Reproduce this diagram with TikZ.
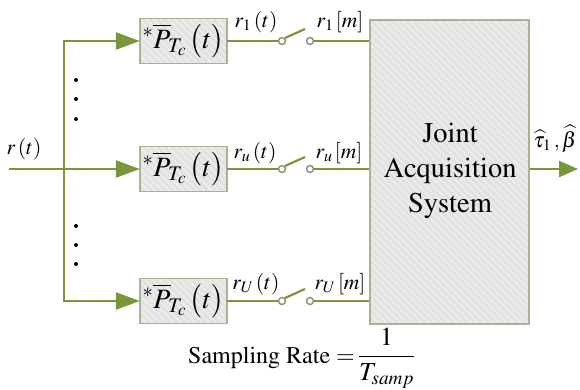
\documentclass[tikz,border=0pt]{standalone}
\usepackage[T1]{fontenc}
\usepackage{amsmath}
\usepackage{mathptmx}
\usetikzlibrary{arrows.meta,patterns.meta}
\definecolor{lnclr}{RGB}{122,150,58}
\definecolor{bordclr}{RGB}{168,178,148}
\definecolor{fillclr}{RGB}{226,226,226}
\definecolor{hatchclr}{RGB}{238,238,238}
\definecolor{swclr}{RGB}{140,150,125}
\tikzset{
  conn/.style={draw=lnclr, line width=2.5pt},
  arr/.style={conn, -{Triangle[length=24pt,width=17pt]}},
  outarr/.style={conn, -{Triangle[length=19pt,width=16pt]}},
  blk/.style={preaction={fill=fillclr},
    pattern={Lines[angle=-45,distance=5pt,line width=1.6pt]}, pattern color=hatchclr,
    postaction={draw=bordclr, line width=1.8pt}},
  swc/.style={circle, draw=swclr, line width=1.5pt, fill=white, minimum size=7pt, inner sep=0pt},
  lbl/.style={anchor=base, inner sep=0pt, font=\fontsize{21.5}{26}\selectfont},
  boxtxt/.style={font=\fontsize{28}{33}\selectfont},
  dotn/.style={circle, fill=black, minimum size=4pt, inner sep=0pt}
}
\newcommand{\pbox}{${}^{*}\overline{P}_{\!T_c}\,\bigl(t\bigr)$}
\begin{document}
\begin{tikzpicture}[x=1pt,y=-1pt]
\useasboundingbox (0,0) rectangle (580,389);
% big box
\node[blk, minimum width=159pt, minimum height=304pt, inner sep=0pt] (js) at (449.5,172) {};
\node[align=center, font=\fontsize{28.5}{35}\selectfont, inner sep=0pt] (jst) at (450,171) {Joint\\Acquisition\\System};
% filter boxes
\node[blk, boxtxt, minimum width=87pt, minimum height=45pt, inner sep=0pt] (b1) at (183.5,41) {\pbox};
\node[blk, boxtxt, minimum width=87pt, minimum height=45pt, inner sep=0pt] (b2) at (183.5,169) {\pbox};
\node[blk, boxtxt, minimum width=87pt, minimum height=45pt, inner sep=0pt] (b3) at (183.5,301) {\pbox};
% input and bus
\coordinate (in) at (9,169);
\coordinate (jn) at (64,169);
\draw[arr] (in) -- (b2.west);
\draw[arr] (jn) |- (b1.west);
\draw[arr] (jn) |- (b3.west);
\node[lbl] (lr) at (24,154) {$r\,(t)$};
% dots
\node[dotn] (d1) at (76,80) {};
\node[dotn] (d2) at (76,99) {};
\node[dotn] (d3) at (76,119) {};
\node[dotn] (d4) at (76,226) {};
\node[dotn] (d5) at (76,245) {};
\node[dotn] (d6) at (76,264) {};
% switches
\foreach \i/\y in {1/41,2/169,3/301}{
  \node[swc] (s\i a) at (282,\y) {};
  \node[swc] (s\i b) at (310,\y) {};
  \coordinate (s\i t) at (305,\y-12);
  \draw[conn] (b\i.east) -- (s\i a.west);
  \draw[conn, line width=2.2pt] (s\i a.north east) -- (s\i t);
  \draw[conn] (s\i b.east) -- (s\i b -| js.west);
}
% labels
\node[lbl] (l1a) at (256,27) {$r_1\,(t)$};
\node[lbl] (l1b) at (340,27) {$r_1\,[m]$};
\node[lbl] (l2a) at (255,158) {$r_u\,(t)$};
\node[lbl] (l2b) at (339,158) {$r_u\,[m]$};
\node[lbl] (l3a) at (256,289) {$r_U\,(t)$};
\node[lbl] (l3b) at (340,289) {$r_U\,[m]$};
% output
\coordinate (out) at (578,169);
\draw[outarr] (out -| js.east) -- (out);
\node[lbl] (lo) at (555,147) {$\widehat{\tau}_1\,\mathbf{,}\,\widehat{\beta}$};
% sampling rate
\node[anchor=base west, inner sep=0pt, font=\fontsize{24}{29}\selectfont] (sr) at (188,363) {Sampling Rate $=$\hspace{3pt}{\fontsize{26}{31}\selectfont$\dfrac{1}{T_{samp}}$}};
\end{tikzpicture}
\end{document}
